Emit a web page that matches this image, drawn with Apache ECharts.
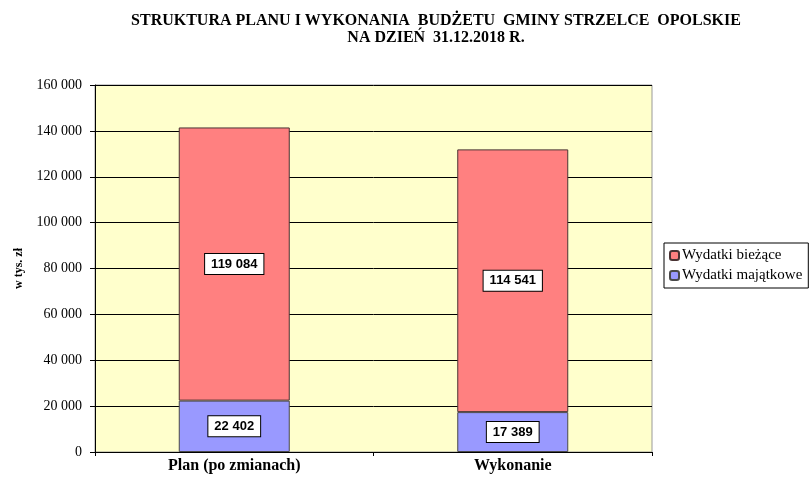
<!DOCTYPE html>
<html>
<head>
<meta charset="utf-8">
<script src="https://cdn.jsdelivr.net/npm/echarts@6/dist/echarts.min.js"></script>
<style>
  html, body { margin: 0; padding: 0; background: #fff; }
  #chart { width: 809px; height: 480px; }
</style>
</head>
<body>
<div id="chart"></div>
<script>
var categories = ['Plan (po zmianach)', 'Wykonanie']
var majatkowe = [22402, 17389]
var biezace = [119084, 114541]
var seriesNames = ['Wydatki bieżące', 'Wydatki majątkowe']

function fmt(v) {
  return String(v).replace(/\B(?=(\d{3})+(?!\d))/g, ' ')
}

var serif = '"Liberation Serif", "Times New Roman", serif'
var sans = '"Liberation Sans", Arial, sans-serif'

var labelStyle = {
  show: true,
  position: 'inside',
  formatter: function (p) { return fmt(p.value) },
  color: '#000',
  fontFamily: sans,
  fontWeight: 'bold',
  fontSize: 13,
  backgroundColor: '#fff',
  borderColor: '#000',
  borderWidth: 1,
  padding: [4, 6, 3, 6]
}

var chart = echarts.init(document.getElementById('chart'))
chart.setOption({
  animation: false,
  title: {
    text: 'STRUKTURA PLANU I WYKONANIA  BUDŻETU  GMINY STRZELCE  OPOLSKIE\nNA DZIEŃ  31.12.2018 R.',
    left: 431,
    top: 7,
    textAlign: 'center',
    textStyle: {
      fontFamily: serif,
      fontWeight: 'bold',
      fontSize: 16,
      lineHeight: 17,
      color: '#000'
    }
  },
  legend: {
    orient: 'vertical',
    left: 664,
    top: 243,
    itemWidth: 9,
    itemHeight: 9,
    itemGap: 5,
    padding: [5, 6, 5, 5],
    borderColor: '#000',
    borderWidth: 1,
    data: seriesNames,
    textStyle: {
      fontFamily: serif,
      fontSize: 15,
      color: '#000',
      padding: [0, 0, 0, -2]
    }
  },
  grid: {
    left: 95,
    right: 157,
    top: 85,
    bottom: 28,
    show: true,
    backgroundColor: '#FFFFCC',
    borderColor: '#999',
    borderWidth: 1
  },
  xAxis: {
    type: 'category',
    data: categories,
    axisLine: { lineStyle: { color: '#000' } },
    axisTick: { show: true, length: 4, lineStyle: { color: '#000' } },
    axisLabel: {
      fontFamily: serif,
      fontWeight: 'bold',
      fontSize: 16,
      color: '#000',
      margin: 6
    }
  },
  yAxis: {
    type: 'value',
    min: 0,
    max: 160000,
    interval: 20000,
    name: 'w tys. zł',
    nameLocation: 'middle',
    nameGap: 70,
    nameTextStyle: {
      fontFamily: serif,
      fontWeight: 'bold',
      fontSize: 12,
      color: '#000'
    },
    axisLine: { show: true, lineStyle: { color: '#000' } },
    axisTick: { show: true, length: 5, lineStyle: { color: '#000' } },
    axisLabel: {
      formatter: function (v) { return fmt(v) },
      fontFamily: serif,
      fontSize: 14,
      color: '#000',
      margin: 13
    },
    splitLine: { lineStyle: { color: '#000', width: 1 } }
  },
  series: [
    {
      name: seriesNames[1],
      type: 'bar',
      stack: 'total',
      barWidth: 111,
      data: majatkowe,
      itemStyle: { color: '#9999FF', borderColor: '#4a4a4a', borderWidth: 1 },
      label: labelStyle
    },
    {
      name: seriesNames[0],
      type: 'bar',
      stack: 'total',
      barWidth: 111,
      data: biezace,
      itemStyle: { color: '#FF8080', borderColor: '#4a3333', borderWidth: 1 },
      label: labelStyle
    }
  ]
})
</script>
</body>
</html>
